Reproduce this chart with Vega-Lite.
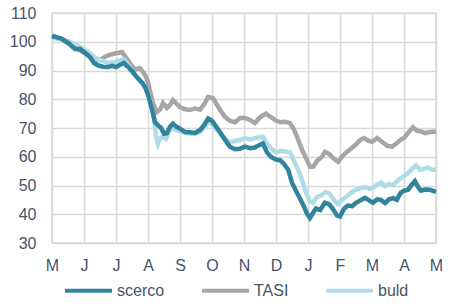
{
"$schema":"https://vega.github.io/schema/vega-lite/v6.json",
"width":384,"height":230,
"autosize":{"type":"none"},
"padding":{"left":52,"top":13,"right":20,"bottom":61},
"config":{
"view":{"stroke":"#D9D9D9","strokeWidth":1.5},
"axis":{"labelFont":"Liberation Sans","labelFontSize":16,"labelColor":"#44546A","gridColor":"#D9D9D9","gridWidth":1.5,"domain":false,"ticks":false,"title":null,"labelFlush":false},
"legend":{"labelFont":"Liberation Sans","labelFontSize":16,"labelColor":"#44546A"}
},
"datasets":{
"TASI":[[0,102],[0.16,101.5],[0.31,100.8],[0.56,99.2],[0.78,97.5],[1,96.2],[1.19,94.6],[1.34,94],[1.5,93.6],[1.66,94.8],[1.81,95.5],[2,96],[2.19,96.4],[2.31,94.5],[2.44,92.5],[2.59,90.3],[2.75,90.8],[2.91,88.4],[3,86],[3.06,83],[3.16,78.5],[3.28,75.6],[3.38,76.5],[3.47,78.7],[3.59,77],[3.69,78],[3.78,79.7],[3.91,78.2],[4,77.3],[4.16,76.5],[4.31,76.3],[4.47,76.8],[4.63,76.4],[4.78,78.7],[4.88,80.8],[5.03,80.4],[5.16,78],[5.25,76.3],[5.41,73.8],[5.56,72.5],[5.72,72],[5.88,73.5],[6.03,73.5],[6.19,72.8],[6.34,71.7],[6.44,73],[6.56,74.2],[6.69,75],[6.81,74],[7,72.6],[7.13,72],[7.28,72.2],[7.44,71.7],[7.56,69.5],[7.69,66],[7.81,62.5],[7.94,59.5],[8.06,56.5],[8.16,56.5],[8.31,58.9],[8.44,60],[8.53,61.7],[8.66,61],[8.78,59.6],[8.94,58.2],[9.06,60],[9.19,61.5],[9.31,62.5],[9.47,64],[9.63,65.8],[9.75,66.5],[9.88,65.6],[10,65.2],[10.16,66.5],[10.31,65.2],[10.47,63.8],[10.63,63.5],[10.75,64.5],[10.88,65.8],[11,66.5],[11.13,68.3],[11.28,70.3],[11.41,69],[11.53,68.8],[11.66,68.2],[11.81,68.6],[12,68.8]],
"scerco":[[0,102],[0.16,101.5],[0.31,101],[0.5,99.6],[0.72,97.5],[0.88,97.5],[1,96.4],[1.19,94.7],[1.31,92.6],[1.44,91.8],[1.59,91.3],[1.75,91.2],[1.88,91.6],[2,91.2],[2.13,92],[2.25,92.6],[2.38,91.2],[2.5,89.8],[2.63,88],[2.75,86.5],[2.84,85.5],[2.94,83.5],[3.03,80.5],[3.13,76.3],[3.22,72],[3.31,71],[3.41,70],[3.5,68],[3.59,68.2],[3.69,70.5],[3.78,71.5],[3.88,70.5],[4,69.8],[4.16,68.6],[4.31,68.5],[4.47,68.3],[4.63,69.3],[4.75,71],[4.88,73.3],[5,72.5],[5.13,70.5],[5.25,68.6],[5.41,65.8],[5.56,63.5],[5.72,62.6],[5.88,62.8],[6.03,63.5],[6.19,63],[6.34,63.2],[6.47,64],[6.59,64.6],[6.72,61.5],[6.84,60],[7,59],[7.13,58.8],[7.25,57.5],[7.38,55.5],[7.5,51],[7.63,48],[7.75,45.5],[7.88,42.5],[7.97,40.2],[8.06,38.7],[8.16,40.5],[8.25,42],[8.38,41.5],[8.53,44],[8.66,43.5],[8.78,41.8],[8.91,39.5],[9,39.2],[9.13,42],[9.25,43],[9.38,42.8],[9.5,44],[9.63,44.8],[9.78,45.7],[9.91,44.8],[10.03,44],[10.16,45.2],[10.28,45],[10.41,43.9],[10.53,45.2],[10.66,45.6],[10.78,45],[10.88,47.3],[11,48.2],[11.13,48.5],[11.22,50],[11.34,51.5],[11.44,49.5],[11.53,48.2],[11.66,48.6],[11.81,48.5],[12,47.8]],
"buld":[[0,101.5],[0.16,101],[0.31,100.8],[0.56,100],[0.75,99],[0.88,98.2],[1.03,97.2],[1.19,96],[1.34,94.5],[1.5,93.6],[1.66,93],[1.81,92.6],[1.97,93],[2.13,93.6],[2.25,93.8],[2.38,92],[2.5,90],[2.63,87.8],[2.75,86.5],[2.88,84.5],[3,82],[3.09,78.5],[3.19,73],[3.25,67],[3.31,64.5],[3.38,66.5],[3.47,67],[3.56,66.2],[3.66,69],[3.75,70],[3.88,69.3],[4,68.8],[4.16,68.3],[4.31,68],[4.47,68],[4.63,68.7],[4.75,70.2],[4.88,72],[5,71.5],[5.13,69.5],[5.25,68],[5.41,66.2],[5.56,65],[5.72,65.5],[5.88,65.8],[6.03,66.5],[6.19,66],[6.34,66.5],[6.47,66.8],[6.59,67],[6.72,64.5],[6.84,63],[7,61.5],[7.16,62],[7.31,61.8],[7.44,61.5],[7.56,58.5],[7.69,55.5],[7.81,52],[7.94,47.5],[8.06,44.5],[8.16,44],[8.28,46],[8.41,46.5],[8.56,47.8],[8.69,47],[8.81,45],[8.94,43.5],[9.06,45],[9.19,46],[9.31,47.2],[9.47,48.4],[9.63,49],[9.78,49.5],[9.91,48.8],[10.03,49.2],[10.16,50.3],[10.28,51],[10.41,49.8],[10.53,50.5],[10.66,50.2],[10.78,51.5],[10.91,52.6],[11.03,53.5],[11.16,54.7],[11.28,56],[11.38,57],[11.5,55.5],[11.63,55.8],[11.75,56.2],[11.88,55.5],[12,55.5]]
},
"encoding":{
"x":{"field":"t","type":"quantitative","scale":{"domain":[0,12],"nice":false},
"axis":{"values":[0,1,2,3,4,5,6,7,8,9,10,11,12],"labelPadding":14,"labelExpr":"['M','J','J','A','S','O','N','D','J','F','M','A','M'][datum.value]"}},
"y":{"field":"v","type":"quantitative","scale":{"domain":[30,110],"nice":false,"zero":false},
"axis":{"values":[30,40,50,60,70,80,90,100,110],"labelPadding":16}},
"color":{"field":"s","type":"nominal","scale":{"domain":["scerco","TASI","buld"],"range":["#31849B","#A6A6A6","#B0DCE7"]},
"legend":{"title":null,"orient":"none","legendX":11,"legendY":252,"direction":"horizontal","symbolType":"stroke","symbolSize":2209,"symbolStrokeWidth":4,"columnPadding":29,"labelOffset":3,"padding":0}}
},
"layer":[
{"data":{"name":"TASI"},"transform":[{"calculate":"datum[0]","as":"t"},{"calculate":"datum[1]","as":"v"},{"calculate":"'TASI'","as":"s"}],"mark":{"type":"line","strokeWidth":4.5}},
{"data":{"name":"buld"},"transform":[{"calculate":"datum[0]","as":"t"},{"calculate":"datum[1]","as":"v"},{"calculate":"'buld'","as":"s"}],"mark":{"type":"line","strokeWidth":4.5}},
{"data":{"name":"scerco"},"transform":[{"calculate":"datum[0]","as":"t"},{"calculate":"datum[1]","as":"v"},{"calculate":"'scerco'","as":"s"}],"mark":{"type":"line","strokeWidth":4.5}}
]
}
